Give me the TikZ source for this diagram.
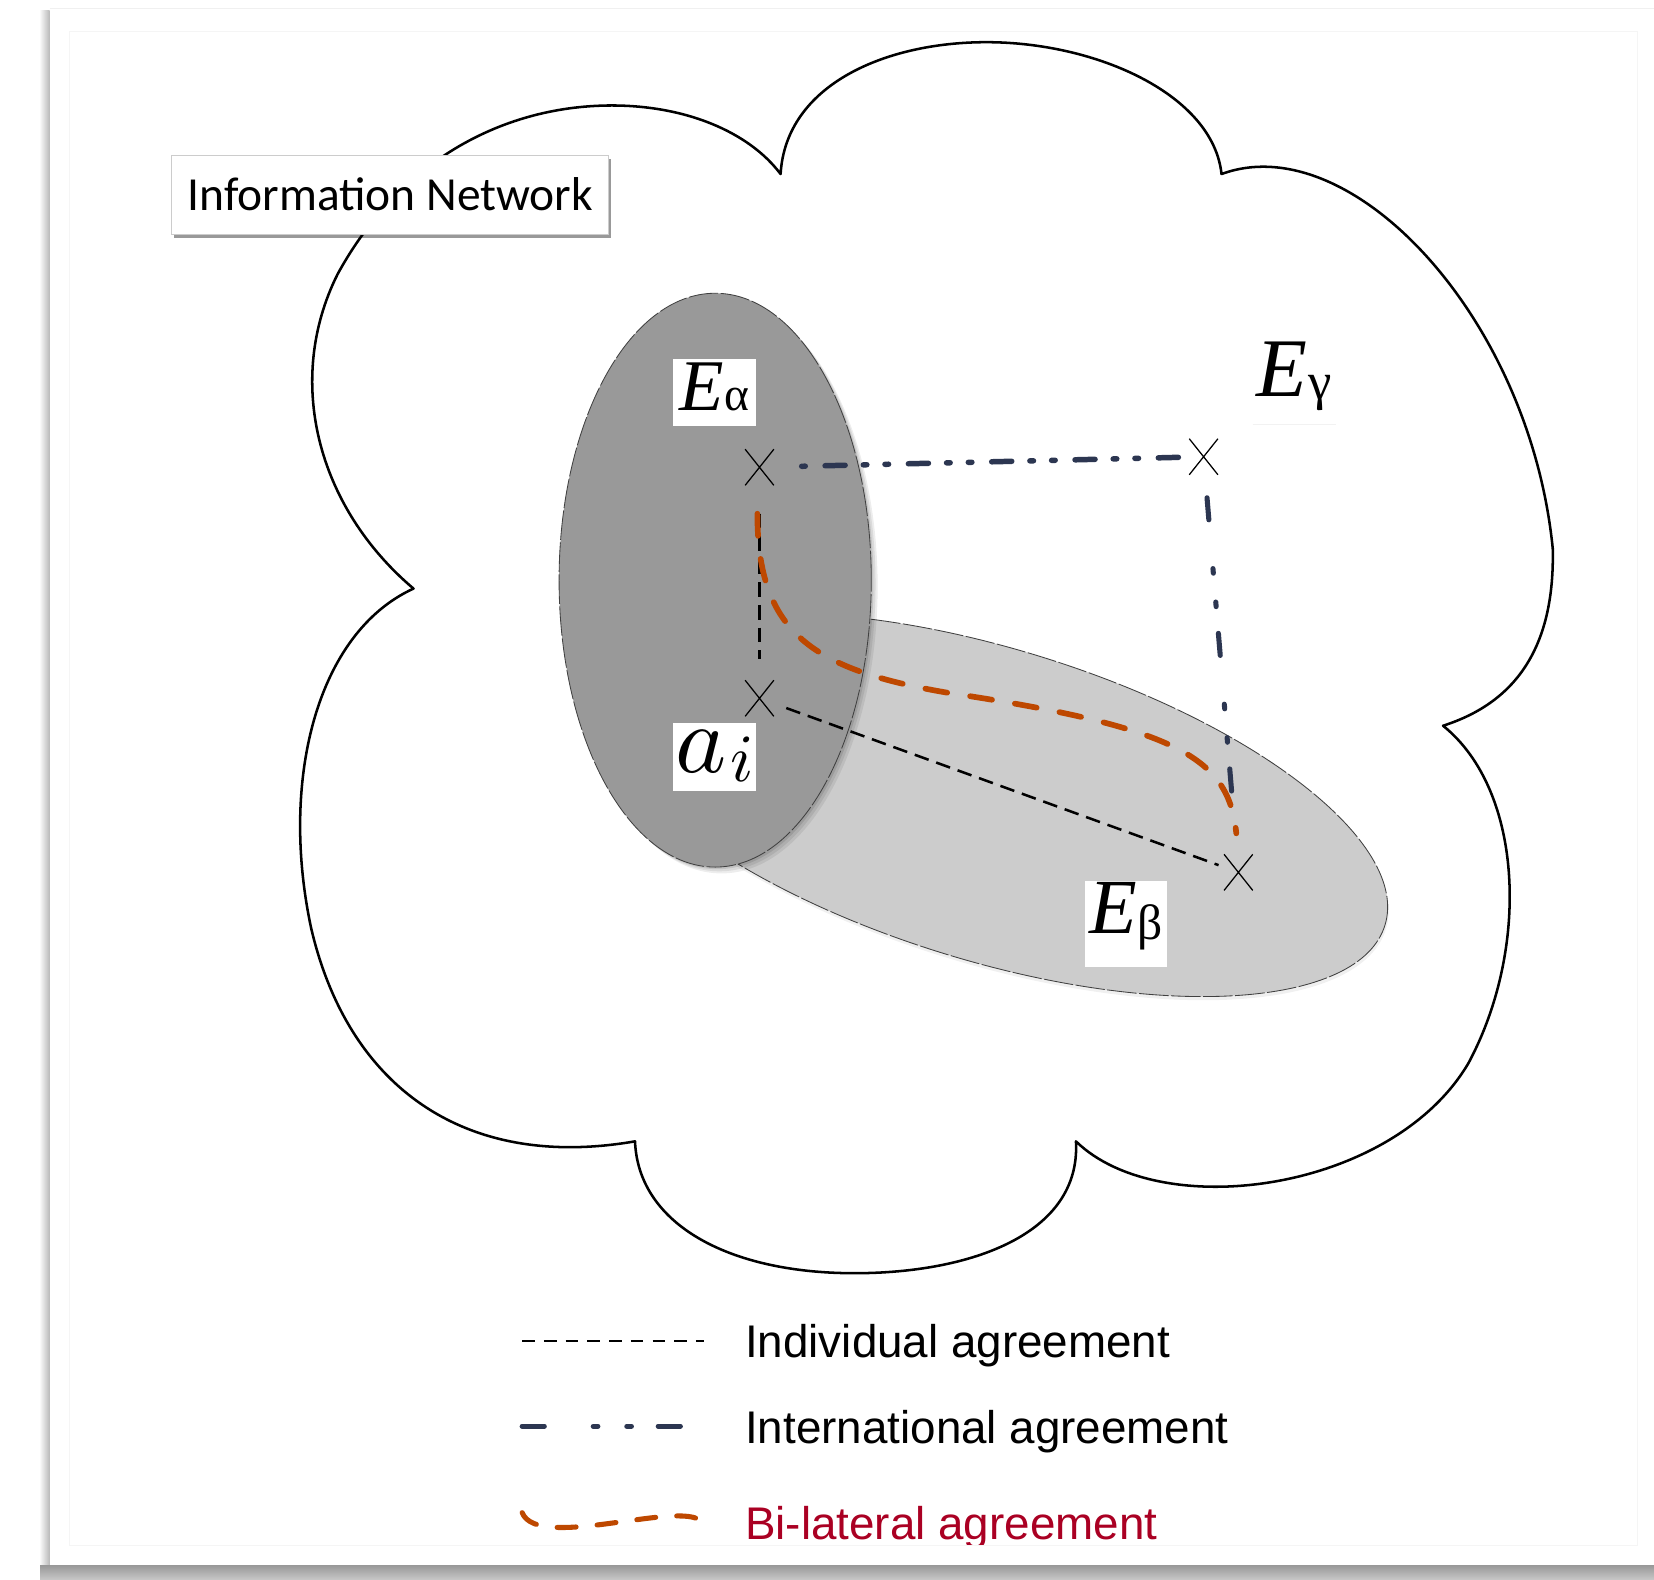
\documentclass[tikz,border=0pt]{standalone}
\usepackage{fontspec}
\setmainfont{Liberation Sans}
\newfontfamily\carl{Carlito}
\newfontfamily\tms{Liberation Serif}
\DeclareFontShape{OML}{cmm}{m}{it}{<->cmmi10}{}
\usetikzlibrary{shapes.misc,shadows}
\definecolor{navy}{RGB}{44,54,81}
\definecolor{rust}{RGB}{190,72,0}
\definecolor{legred}{RGB}{170,0,35}
\definecolor{darkell}{RGB}{153,153,153}
\definecolor{lightell}{RGB}{204,204,204}
\tikzset{
  cloudline/.style={line width=1.2pt, draw=black, line join=round},
  indiv/.style={line width=1.2pt, draw=black, dash pattern=on 7pt off 3.8pt},
  intl/.style={line width=2.4pt, draw=navy, line cap=round,
    dash pattern=on 10.5pt off 23.2pt on 2.2pt off 13.7pt on 2.2pt off 12.7pt},
  intlline/.style={line width=2.6pt, draw=navy, line cap=round,
    dash pattern=on 1.7pt off 9.4pt on 9.5pt off 8.6pt on 1.7pt off 8.6pt},
  bilat/.style={line width=2.7pt, draw=rust, line cap=round, dash pattern=on 10.5pt off 11pt},
  xmark/.style={cross out, draw=black, line width=0.6pt, minimum width=13pt,
    minimum height=16.5pt, inner sep=0pt},
  ellline/.style={draw=black!75, line width=0.4pt, dash pattern=on 14pt off 1.2pt},
  lbl/.style={fill=white, inner sep=0pt, align=center},
  infobox/.style={draw=gray!40, fill=white, line width=0.5pt, inner sep=0pt,
    minimum width=207pt, minimum height=37.5pt,
    font=\carl\fontsize{22.5}{22.5}\selectfont,
    drop shadow={shadow xshift=1pt, shadow yshift=-2pt, fill=black, opacity=0.4}},
  legtext/.style={anchor=base west, inner sep=0pt, font=\fontsize{21.7}{21.7}\selectfont}
}
\newcommand{\Elab}[4]{{\tms\fontsize{#1}{#1}\selectfont\itshape E\kern0.01em\raisebox{#3}{\upshape\fontsize{#2}{#2}\selectfont #4}}}
\begin{document}
\begin{tikzpicture}[x=0.5pt, y=-0.5pt]
\useasboundingbox (0,0) rectangle (1568,1497);
% page and shadows
\fill[white] (0,0) rectangle (1568,1497);
\shade[left color=white, right color=gray!55] (37,10) rectangle (47,1484);
\shade[top color=gray!80, bottom color=gray!45] (38,1484) rectangle (1568,1497);
\fill[white] (47,8) rectangle (1568,1484);
\draw[gray!12, line width=0.5pt] (47,8) -- (1568,8);
% cloud
\draw[cloudline] (740,165) .. controls (745,80) and (840,40) .. (935,40)
  .. controls (1040,40) and (1150,90) .. (1158,165)
  .. controls (1280,120) and (1450,300) .. (1472,520)
  .. controls (1474,610) and (1440,665) .. (1368,688)
  .. controls (1445,750) and (1450,900) .. (1392,1008)
  .. controls (1320,1130) and (1100,1160) .. (1020,1082)
  .. controls (1025,1170) and (920,1207) .. (810,1207)
  .. controls (690,1207) and (605,1160) .. (602,1082)
  .. controls (440,1110) and (330,1030) .. (295,880)
  .. controls (265,740) and (300,600) .. (392,558)
  .. controls (300,480) and (270,360) .. (320,260)
  .. controls (380,150) and (480,100) .. (580,100)
  .. controls (650,100) and (710,125) .. cycle;
% title box
\node[infobox] (info) at (370,184.5) {Information Network};
% E_beta ellipse
\begin{scope}[shift={(940,763)}, rotate=-17]
  \fill[black, opacity=0.06] (1pt,-1.5pt) ellipse [x radius=195pt, y radius=74pt];
  \filldraw[fill=lightell, ellline] (0,0) ellipse [x radius=195pt, y radius=74pt];
\end{scope}
% E_alpha ellipse with soft shadow
\fill[black, opacity=0.07] (684,556) ellipse [x radius=74pt, y radius=136pt];
\fill[black, opacity=0.08] (682,554) ellipse [x radius=74pt, y radius=136pt];
\fill[black, opacity=0.10] (680,552) ellipse [x radius=74pt, y radius=136pt];
\filldraw[fill=darkell, ellline] (678,550) ellipse [x radius=74pt, y radius=136pt];
% points
\node[xmark] (x1) at (720,443) {};
\node[xmark] (x2) at (1141,433) {};
\node[xmark] (x3) at (720,662) {};
\node[xmark] (x4) at (1174,827) {};
% agreements
\draw[indiv, shorten <=22pt, shorten >=18.5pt] (x1.center) -- (x3.center);
\draw[indiv, shorten <=13.5pt, shorten >=10pt] (x3.center) -- (x4.center);
\draw[intlline, shorten <=20pt, shorten >=11.5pt] (x1.center) -- (x2.center);
\draw[intl, shorten <=19.5pt, shorten >=27.5pt] (x2.center) -- (x4.center);
\draw[bilat] ([xshift=-1pt,yshift=-22pt]x1.center) .. controls (718,600) and (770,635) .. (900,657)
  .. controls (1120,690) and (1165,720) .. ([xshift=-1pt,yshift=18.5pt]x4.center);
% labels
\node[lbl, minimum width=39.5pt, text height=24.5pt, text depth=7.5pt] (ea) at (677.5,372)
  {\Elab{34.5}{22.5}{0pt}{α}};
\node[lbl, minimum width=39.5pt, text height=23.5pt, text depth=9pt] (ai) at (677.5,717.5)
  {\fontsize{46}{46}\selectfont$a$\kern0.03em\raisebox{-4.5pt}{\fontsize{32}{32}\selectfont$i$}};
\node[lbl, minimum width=38.5pt, text height=25pt, text depth=16pt] (eb) at (1067.5,876)
  {\Elab{37}{23.5}{-3pt}{β}};
\node[lbl, minimum width=39pt, text height=29pt, text depth=13pt] (eg) at (1227,360)
  {\Elab{39.5}{25}{-1.5pt}{γ}};
\draw[gray!10, line width=0.8pt] (eg.south west) -- (eg.south east);
% legend
\coordinate (l1a) at (495,1271); \coordinate (l1b) at (667,1271);
\coordinate (l2a) at (495,1352); \coordinate (l2b) at (648,1352);
\coordinate (l3a) at (495,1434); \coordinate (l3b) at (667,1445);
\draw[indiv, line width=1pt, dash pattern=on 6pt off 4.3pt] (l1a) -- (l1b);
\draw[intl] (l2a) -- (l2b);
\draw[bilat, line width=2.4pt, dash pattern=on 9pt off 10pt] (l3a) .. controls (510,1472) and (655,1418) .. (l3b);
\node[legtext] (t1) at (706,1287) {Individual agreement};
\node[legtext] (t2) at (706,1368) {International agreement};
\node[legtext, text=legred] (t3) at (706,1459) {Bi-lateral agreement};
% page inner edge clip
\fill[white] (50,1465.6) rectangle (1566,1483.5);
\draw[gray!8, line width=0.5pt] (66,30) rectangle (1552,1465);
\end{tikzpicture}
\end{document}
